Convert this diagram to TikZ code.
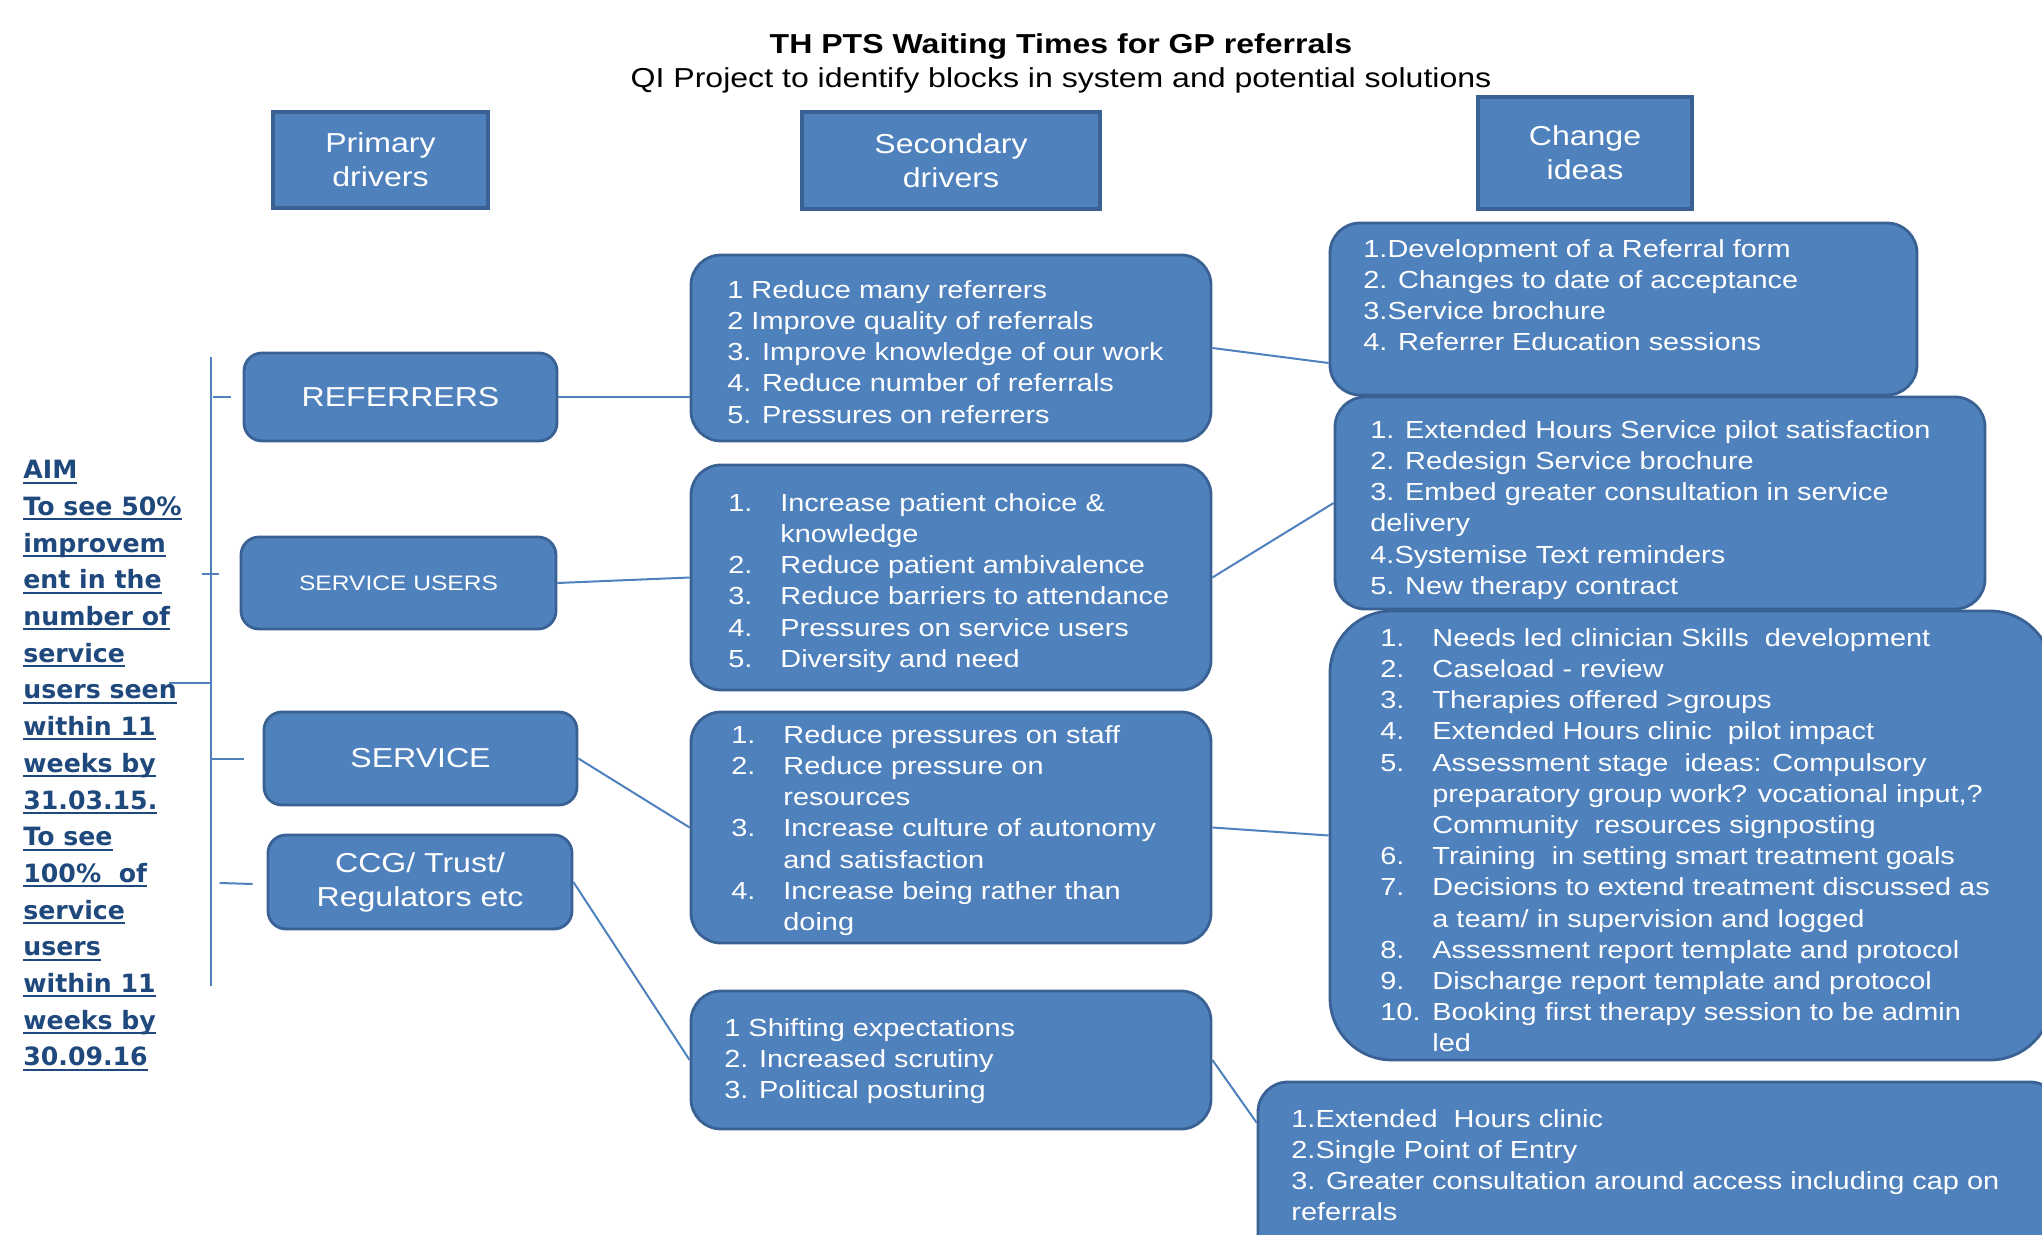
\documentclass[tikz,border=0pt]{standalone}
\usepackage{fontspec}
\setmainfont[FakeStretch=1.17]{Liberation Sans}
\newfontfamily\aimfont{DejaVu Sans}
\usetikzlibrary{positioning,calc,fit}
\definecolor{QiBlue}{HTML}{4F81BD}
\definecolor{QiEdge}{HTML}{3A6194}
\definecolor{QiNavy}{HTML}{1F497D}
\newcommand{\itemsize}{\fontsize{12.35pt}{15.6pt}\selectfont}
\newcommand{\drvsize}{\fontsize{13.7pt}{17pt}\selectfont}
\newcommand{\aimsize}{\fontsize{12.6pt}{18.35pt}\selectfont}
\newcommand{\lbl}[1]{\makebox[26pt][l]{#1}}
\newcommand{\hang}{\hspace*{26pt}}
\newcommand{\aimline}[1]{\setbox0\hbox{#1}\rlap{\rule[-2.4pt]{\wd0}{1pt}}\box0}
\tikzset{
  figtitle/.style={font=\drvsize\bfseries, align=center},
  figsub/.style={font=\drvsize, align=center},
  headbox/.style={draw=QiEdge, fill=QiBlue, line width=2pt, inner sep=0pt,
                  align=center, font=\drvsize, text=white},
  drvbox/.style={draw=QiEdge, fill=QiBlue, rounded corners=9pt, line width=1.4pt,
                 inner sep=0pt, align=center, font=\drvsize, text=white},
  listbox/.style={draw=QiEdge, fill=QiBlue, rounded corners=15pt, line width=1.4pt,
                  inner sep=0pt},
  itemtext/.style={anchor=north west, inner sep=0pt, align=left, font=\itemsize,
                   text=white},
  aimtext/.style={anchor=north west, inner sep=0pt, align=left,
                  font=\aimfont\bfseries\aimsize, text=QiNavy},
  link/.style={draw=QiBlue, line width=1pt},
}

\begin{document}
\begin{tikzpicture}[x=0.5pt, y=-0.5pt]
  \useasboundingbox (0,0) rectangle (2042,1235);

  % title
  \node[figtitle] (title) at (1061,46) {TH PTS Waiting Times for GP referrals};
  \node[figsub] (subtitle) at (1061,80)
        {QI Project to identify blocks in system and potential solutions};

  % column heads
  \node[headbox, minimum width=107.5pt, minimum height=48pt] (hprim) at (380.5,160)
        {Primary\\drivers};
  \node[headbox, minimum width=149pt, minimum height=48.5pt] (hsec) at (951,160.5)
        {Secondary\\drivers};
  \node[headbox, minimum width=107pt, minimum height=56pt] (hidea) at (1585,153)
        {Change\\ideas};

  % aim
  \node[aimtext] (aim) at (23,460) {\aimline{AIM}\\ \aimline{To see 50\%}\\
        \aimline{improvem}\\ \aimline{ent in the}\\ \aimline{number of}\\
        \aimline{service}\\ \aimline{users seen}\\ \aimline{within 11}\\
        \aimline{weeks by}\\ \aimline{31.03.15.}\\ \aimline{To see}\\
        \aimline{100\%\ \ of}\\ \aimline{service}\\ \aimline{users}\\
        \aimline{within 11}\\ \aimline{weeks by}\\ \aimline{30.09.16}};

  % primary drivers
  \node[drvbox, minimum width=156.5pt, minimum height=44pt] (ref) at (400.5,397)
        {REFERRERS};
  \node[drvbox, minimum width=157.5pt, minimum height=46pt,
        font=\fontsize{10.5pt}{13pt}\selectfont] (susers) at (398.5,583) {SERVICE USERS};
  \node[drvbox, minimum width=156.5pt, minimum height=46.5pt] (svc) at (420.5,758.5)
        {SERVICE};
  \node[drvbox, minimum width=152pt, minimum height=47pt] (ccg) at (420,882)
        {CCG/ Trust/\\Regulators etc};

  % spine and ticks
  \coordinate (spinetop) at (211,357);
  \coordinate (spinebot) at (211,986);
  \coordinate (aimjoin) at (211,683);
  \draw[link] (spinetop) -- (spinebot);
  \draw[link] (aimjoin) -- ++(-42,0);
  \draw[link] ($(ref.west)+(-30,0)$) -- ($(ref.west)+(-12,0)$);
  \draw[link] ($(susers.west)+(-38,-9)$) -- ($(susers.west)+(-21,-9)$);
  \draw[link] ($(svc.west)+(-52,0)$) -- ($(svc.west)+(-19,0)$);
  \draw[link] ($(ccg.west)+(-47,1)$) -- ($(ccg.west)+(-14,2)$);

  % secondary drivers
  \node[listbox, fit={(691,255) (1211,441)}] (sec1) {};
  \node[listbox, fit={(691,465) (1211,690)}] (sec2) {};
  \node[listbox, fit={(691,712) (1211,943)}] (sec3) {};
  \node[listbox, fit={(691,991) (1211,1129)}] (sec4) {};

  \node[itemtext] (sec1txt) at (727,280) {1 Reduce many referrers\\
        2 Improve quality of referrals\\ 3. Improve knowledge of our work\\
        4. Reduce number of referrals\\ 5. Pressures on referrers};
  \node[itemtext] (sec2txt) at (728,493) {\lbl{1.}Increase patient choice \&\\
        \hang knowledge\\ \lbl{2.}Reduce patient ambivalence\\
        \lbl{3.}Reduce barriers to attendance\\ \lbl{4.}Pressures on service users\\
        \lbl{5.}Diversity and need};
  \node[itemtext] (sec3txt) at (731,725) {\lbl{1.}Reduce pressures on staff\\
        \lbl{2.}Reduce pressure on\\ \hang resources\\
        \lbl{3.}Increase culture of autonomy\\ \hang and satisfaction\\
        \lbl{4.}Increase being rather than\\ \hang doing};
  \node[itemtext] (sec4txt) at (724,1018) {1 Shifting expectations\\
        2. Increased scrutiny\\ 3. Political posturing};

  % change ideas
  \node[listbox, fit={(1330,223) (1917,395)}] (idea1) {};
  \node[listbox, fit={(1335,397) (1985,609)}] (idea2) {};
  \node[listbox, fit={(1330,611) (2052,1060)}, rounded corners=31pt] (idea3) {};
  \node[listbox, fit={(1258,1082) (2060,1290)}] (idea4) {};

  \node[itemtext] (idea1txt) at (1363,239) {1.Development of a Referral form\\
        2. Changes to date of acceptance\\ 3.Service brochure\\
        4. Referrer Education sessions};
  \node[itemtext] (idea2txt) at (1370,420) {1. Extended Hours Service pilot satisfaction\\
        2. Redesign Service brochure\\ 3. Embed greater consultation in service\\
        delivery\\ 4.Systemise Text reminders\\ 5. New therapy contract};
  \node[itemtext] (idea3txt) at (1380,628) {\lbl{1.}Needs led clinician Skills\ \ development\\
        \lbl{2.}Caseload - review\\ \lbl{3.}Therapies offered >groups\\
        \lbl{4.}Extended Hours clinic\ \ pilot impact\\
        \lbl{5.}Assessment stage\ \ ideas: Compulsory\\
        \hang preparatory group work? vocational input,?\\
        \hang Community\ \ resources signposting\\
        \lbl{6.}Training\ \ in setting smart treatment goals\\
        \lbl{7.}Decisions to extend treatment discussed as\\
        \hang a team/ in supervision and logged\\
        \lbl{8.}Assessment report template and protocol\\
        \lbl{9.}Discharge report template and protocol\\
        \lbl{10.}Booking first therapy session to be admin\\ \hang led};
  \node[itemtext] (idea4txt) at (1291,1109) {1.Extended\ \ Hours clinic\\
        2.Single Point of Entry\\
        3. Greater consultation around access including cap on\\ referrals};

  % connectors
  \draw[link] (ref.east) -- (sec1.west |- ref.east);
  \draw[link] (susers.east) -- (sec2.west);
  \draw[link] (svc.east) -- (sec3.west);
  \draw[link] (ccg.east) -- (sec4.west);
  \draw[link] (sec1.east) -- ($(idea1.west)+(0,54)$);
  \draw[link] (sec2.east) -- (idea2.west);
  \draw[link] (sec3.east) -- (idea3.west);
  \draw[link] (sec4.east) -- ($(idea4.north west)+(0,42)$);

\end{tikzpicture}
\end{document}
